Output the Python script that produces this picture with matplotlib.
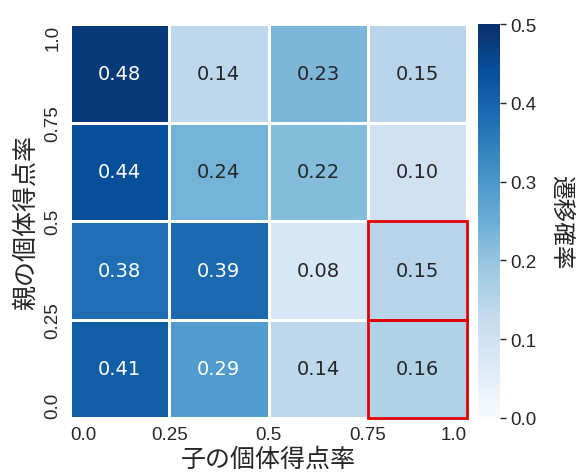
import numpy as np
import matplotlib
matplotlib.use("Agg")
import matplotlib.pyplot as plt
import seaborn as sns
from matplotlib.patches import Rectangle

# transition probabilities, rows from parent 1.0 (top) down to 0.0
values = np.array([
    [0.48, 0.14, 0.23, 0.15],
    [0.44, 0.24, 0.22, 0.10],
    [0.38, 0.39, 0.08, 0.15],
    [0.41, 0.29, 0.14, 0.16],
])
x_labels = ["0.0", "0.25", "0.5", "0.75", "1.0"]
y_labels = ["1.0", "0.75", "0.5", "0.25", "0.0"]
highlight = [(2, 3), (3, 3)]  # (row, col)

sns.set_style("white")
plt.rcParams["font.family"] = ["Liberation Sans", "Noto Sans CJK JP"]
cjk = ["Noto Sans CJK JP", "DejaVu Sans"]

fig = plt.figure(figsize=(5.82, 4.77), dpi=100)
ax = fig.add_axes([70/582, 58/477, 397/582, 394/477])
cax = fig.add_axes([478/582, 58/477, 22/582, 394/477])

sns.heatmap(values, ax=ax, cbar_ax=cax, cmap="Blues", vmin=0, vmax=0.5,
            annot=True, fmt=".2f", linewidths=1, linecolor="white",
            annot_kws={"fontsize": 14, "family": "DejaVu Sans"})

for r, c in highlight:
    ax.add_patch(Rectangle((c, r), 1, 1, fill=False, edgecolor="#e00000", lw=2, clip_on=False))

ax.set_xticks(range(5))
ax.set_xticklabels(x_labels, fontsize=13.5)
ax.set_yticks(range(5))
ax.set_yticklabels(y_labels, fontsize=13.5, rotation=90, va="center")
ax.tick_params(length=0, pad=6)
xt = ax.get_xticklabels()
xt[0].set_ha("left")
xt[-1].set_ha("right")
yt = ax.get_yticklabels()
yt[0].set_va("top")
yt[-1].set_va("bottom")

ax.set_xlabel("子の個体得点率", fontsize=18, family=cjk, labelpad=2)
ax.set_ylabel("親の個体得点率", fontsize=18, family=cjk, labelpad=4)

cax.tick_params(labelsize=13.5, length=4, width=1)
cax.set_yticks([0, 0.1, 0.2, 0.3, 0.4, 0.5])
cax.set_ylabel("遷移確率", fontsize=17, family=cjk, rotation=270, labelpad=26)

fig.savefig("out.png", dpi=100)
